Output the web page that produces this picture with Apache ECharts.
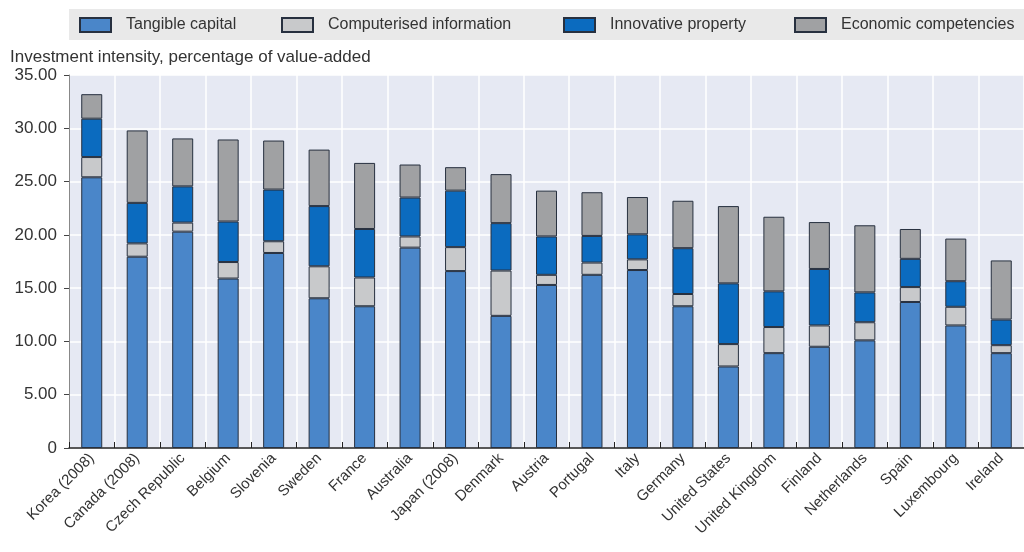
<!DOCTYPE html>
<html>
<head>
<meta charset="utf-8">
<script src="https://cdn.jsdelivr.net/npm/echarts@6/dist/echarts.min.js"></script>
<style>
  html, body { margin: 0; padding: 0; background: #fff; }
  #chart { width: 1024px; height: 552px; }
</style>
</head>
<body>
<div id="chart"></div>
<script>
// countries, sorted by total intensity
var countries = ['Korea (2008)', 'Canada (2008)', 'Czech Republic', 'Belgium', 'Slovenia', 'Sweden', 'France',
  'Australia', 'Japan (2008)', 'Denmark', 'Austria', 'Portugal', 'Italy', 'Germany', 'United States',
  'United Kingdom', 'Finland', 'Netherlands', 'Spain', 'Luxembourg', 'Ireland'];

// values (% of value-added)
var tangible     = [25.4, 17.95, 20.3, 15.9, 18.3, 14.05, 13.3, 18.8, 16.6, 12.4, 15.3, 16.25, 16.7, 13.3, 7.65, 8.9, 9.5, 10.1, 13.7, 11.5, 8.9];
var computerised = [1.9, 1.25, 0.85, 1.55, 1.1, 3.0, 2.7, 1.05, 2.25, 4.25, 0.95, 1.15, 1.0, 1.15, 2.1, 2.45, 2.0, 1.7, 1.4, 1.75, 0.75];
var innovative   = [3.6, 3.8, 3.4, 3.8, 4.85, 5.65, 4.55, 3.65, 5.3, 4.45, 3.6, 2.5, 2.35, 4.3, 5.7, 3.35, 5.3, 2.8, 2.65, 2.4, 2.4];
var economic     = [2.3, 6.8, 4.5, 7.7, 4.6, 5.3, 6.2, 3.1, 2.2, 4.6, 4.3, 4.1, 3.5, 4.45, 7.25, 7.0, 4.4, 6.3, 2.8, 4.0, 5.55];

var seriesNames = ['Tangible capital', 'Computerised information', 'Innovative property', 'Economic competencies'];
var yTicks = [0, 5, 10, 15, 20, 25, 30, 35];

var sans = '"Liberation Sans", Arial, sans-serif';

var chart = echarts.init(document.getElementById('chart'), null, { renderer: 'canvas' });

function makeSeries(name, data, color) {
  return {
    name: name,
    type: 'bar',
    stack: 'total',
    barWidth: 21,
    data: data,
    itemStyle: { color: color, borderColor: '#27303f', borderWidth: 1 }
  };
}

// one legend per item so each sits where it does in the original
var legendLeft = [79, 281, 563, 794];
var legends = seriesNames.map(function (n, i) {
  return {
    left: legendLeft[i],
    top: 17,
    padding: 0,
    icon: 'rect',
    itemWidth: 31,
    itemHeight: 14,
    textStyle: { fontFamily: sans, fontSize: 16, color: '#333', padding: [0, 0, 0, 10] },
    data: [n]
  };
});

var option = {
  animation: false,
  backgroundColor: '#ffffff',
  graphic: [
    // grey band behind the legend
    { type: 'rect', left: 69, top: 9, shape: { width: 955, height: 31 }, style: { fill: '#e9e9e9' }, z: -1 },
    { type: 'text', left: 10, top: 49, style: { text: 'Investment intensity, percentage of value-added', font: '17px ' + sans, fill: '#333' } }
  ],
  legend: legends,
  grid: {
    left: 69,
    top: 75,
    width: 964,
    bottom: 104,
    show: true,
    backgroundColor: '#e6e9f3',
    borderWidth: 0
  },
  xAxis: {
    type: 'category',
    data: countries,
    axisLine: { lineStyle: { color: '#222', width: 1.5 } },
    axisTick: { show: true, inside: true, length: 6, lineStyle: { color: '#222' } },
    splitLine: { show: true, lineStyle: { color: '#ffffff', width: 1.5 } },
    axisLabel: {
      rotate: 45,
      interval: 0,
      margin: 8,
      fontFamily: sans,
      fontSize: 15,
      color: '#333'
    }
  },
  yAxis: {
    type: 'value',
    min: yTicks[0],
    max: yTicks[yTicks.length - 1],
    interval: 5,
    axisLine: { show: true, lineStyle: { color: '#888' } },
    axisTick: { show: true, length: 5, lineStyle: { color: '#444' } },
    splitLine: { show: true, lineStyle: { color: '#ffffff', width: 1.5 } },
    axisLabel: {
      margin: 12,
      fontFamily: sans,
      fontSize: 17,
      color: '#333',
      formatter: function (v) { return v === 0 ? '0' : v.toFixed(2); }
    }
  },
  series: [
    makeSeries(seriesNames[0], tangible, '#4a86c9'),
    makeSeries(seriesNames[1], computerised, '#c8c9cb'),
    makeSeries(seriesNames[2], innovative, '#0b6bbf'),
    makeSeries(seriesNames[3], economic, '#a0a1a3')
  ]
};

chart.setOption(option);
</script>
</body>
</html>
